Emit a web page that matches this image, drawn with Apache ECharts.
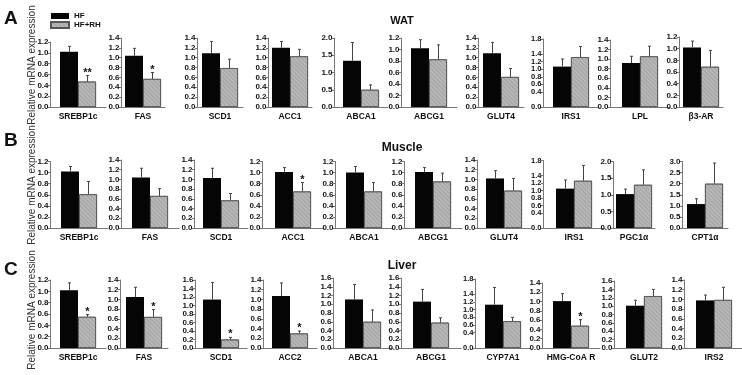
<!DOCTYPE html>
<html>
<head>
<meta charset="utf-8">
<script src="https://cdn.jsdelivr.net/npm/echarts@6/dist/echarts.min.js"></script>
<style>
  html, body { margin: 0; padding: 0; background: #fff; }
  #chart { width: 742px; height: 375px; }
</style>
</head>
<body>
<div id="chart"></div>
<script>
// relative mRNA expression, HF vs HF+RH (mean and error)
const watGenes = ['SREBP1c', 'FAS', 'SCD1', 'ACC1', 'ABCA1', 'ABCG1', 'GLUT4', 'IRS1', 'LPL', 'β3-AR']
const watHF = [1.02, 1.04, 1.09, 1.20, 1.34, 1.02, 1.09, 1.07, 0.92, 1.02]
const watHFErr = [0.10, 0.15, 0.24, 0.13, 0.53, 0.15, 0.22, 0.20, 0.14, 0.11]
const watRH = [0.47, 0.57, 0.79, 1.03, 0.50, 0.83, 0.61, 1.32, 1.06, 0.69]
const watRHErr = [0.11, 0.13, 0.18, 0.14, 0.14, 0.25, 0.17, 0.28, 0.21, 0.28]
const watSig = ['**', '*', '', '', '', '', '', '', '', '']
const watMax = [1.2, 1.4, 1.4, 1.4, 2.0, 1.2, 1.4, 1.8, 1.4, 1.2]
const watStep = [0.2, 0.2, 0.2, 0.2, 0.5, 0.2, 0.2, 0.2, 0.2, 0.2]

const muscleGenes = ['SREBP1c', 'FAS', 'SCD1', 'ACC1', 'ABCA1', 'ABCG1', 'GLUT4', 'IRS1', 'PGC1α', 'CPT1α']
const muscleHF = [1.02, 1.04, 1.03, 1.01, 1.00, 1.01, 1.02, 1.05, 1.02, 1.08]
const muscleHFErr = [0.09, 0.19, 0.20, 0.08, 0.11, 0.08, 0.16, 0.23, 0.15, 0.24]
const muscleRH = [0.61, 0.66, 0.57, 0.66, 0.66, 0.84, 0.77, 1.26, 1.30, 2.00]
const muscleRHErr = [0.23, 0.15, 0.14, 0.16, 0.16, 0.15, 0.25, 0.41, 0.45, 0.93]
const muscleSig = ['', '', '', '*', '', '', '', '', '', '']
const muscleMax = [1.2, 1.4, 1.4, 1.2, 1.2, 1.2, 1.4, 1.8, 2.0, 3.0]
const muscleStep = [0.2, 0.2, 0.2, 0.2, 0.2, 0.2, 0.2, 0.2, 0.5, 0.5]

const liverGenes = ['SREBP1c', 'FAS', 'SCD1', 'ACC2', 'ABCA1', 'ABCG1', 'CYP7A1', 'HMG-CoA R', 'GLUT2', 'IRS2']
const liverHF = [1.02, 1.05, 1.14, 1.07, 1.11, 1.06, 1.13, 1.01, 1.01, 0.98]
const liverHFErr = [0.13, 0.20, 0.40, 0.27, 0.34, 0.28, 0.45, 0.16, 0.13, 0.11]
const liverRH = [0.55, 0.64, 0.20, 0.30, 0.60, 0.58, 0.70, 0.48, 1.24, 0.99]
const liverRHErr = [0.04, 0.15, 0.05, 0.05, 0.27, 0.11, 0.10, 0.13, 0.16, 0.26]
const liverSig = ['*', '*', '*', '*', '', '', '', '*', '', '']
const liverMax = [1.2, 1.4, 1.6, 1.4, 1.6, 1.6, 1.8, 1.4, 1.6, 1.4]
const liverStep = [0.2, 0.2, 0.2, 0.2, 0.2, 0.2, 0.2, 0.2, 0.2, 0.2]

const rows = [
  { genes: watGenes, hf: watHF, hfErr: watHFErr, rh: watRH, rhErr: watRHErr, sig: watSig, max: watMax, step: watStep },
  { genes: muscleGenes, hf: muscleHF, hfErr: muscleHFErr, rh: muscleRH, rhErr: muscleRHErr, sig: muscleSig, max: muscleMax, step: muscleStep },
  { genes: liverGenes, hf: liverHF, hfErr: liverHFErr, rh: liverRH, rhErr: liverRHErr, sig: liverSig, max: liverMax, step: liverStep }
]

// panel placement (pixels)
const layout = [
  {
    bottom: 107,
    tops: [42, 38, 38, 38, 38, 38, 38, 39, 40, 37],
    axisX: [50, 121, 197, 268, 334, 401, 478, 543, 610, 679],
    barLeft: [60, 125, 202, 272, 343, 411, 483, 553, 622, 683]
  },
  {
    bottom: 228,
    tops: [161.5, 160, 160, 161.5, 161.5, 161.5, 160, 160.5, 161.5, 161.5],
    axisX: [50, 121, 194, 262, 335, 404, 477, 543, 613, 682],
    barLeft: [61, 132, 203, 275, 346, 415, 486, 556, 616, 687]
  },
  {
    bottom: 348,
    tops: [280, 280, 280, 280, 278, 278, 279, 283, 281, 280],
    axisX: [50, 120, 195, 263, 333, 401, 475, 542, 614, 684],
    barLeft: [60, 126, 203, 272, 345, 413, 485, 553, 626, 696]
  }
]

const FONT = 'Liberation Sans, Arial, sans-serif'
const BAR_W = 18
const axisColor = '#777'

const grids = []
const xAxes = []
const yAxes = []
const series = []

rows.forEach((r, ri) => {
  const L = layout[ri]
  r.genes.forEach((gene, i) => {
    const idx = grids.length
    const cx = L.barLeft[i] + BAR_W
    grids.push({
      left: L.axisX[i],
      top: L.tops[i],
      width: 2 * (cx - L.axisX[i]),
      height: L.bottom - L.tops[i],
      outerBoundsMode: 'none'
    })
    xAxes.push({
      type: 'category',
      gridIndex: idx,
      data: [gene],
      axisTick: { show: false },
      axisLine: { lineStyle: { color: axisColor } },
      axisLabel: { margin: 5, fontSize: 8.5, fontWeight: 'bold', color: '#111', fontFamily: FONT, interval: 0 }
    })
    yAxes.push({
      type: 'value',
      gridIndex: idx,
      min: 0,
      max: r.max[i],
      interval: r.step[i],
      splitLine: { show: false },
      axisLine: { show: true, lineStyle: { color: axisColor } },
      axisTick: { show: true, length: 2, lineStyle: { color: axisColor } },
      axisLabel: {
        margin: 1.5,
        fontSize: r.max[i] / r.step[i] > 8 ? 7.5 : 8,
        fontWeight: 'bold',
        color: '#111',
        fontFamily: FONT,
        showMinLabel: true,
        showMaxLabel: true,
        formatter: v => v.toFixed(1)
      }
    })
    series.push({
      name: 'HF',
      type: 'bar',
      xAxisIndex: idx,
      yAxisIndex: idx,
      data: [r.hf[i]],
      barWidth: BAR_W,
      barGap: '0%',
      itemStyle: { color: '#050505' }
    })
    series.push({
      name: 'HF+RH',
      type: 'bar',
      xAxisIndex: idx,
      yAxisIndex: idx,
      data: [r.rh[i]],
      barWidth: BAR_W,
      barGap: '0%',
      itemStyle: {
        color: '#a9a9a9',
        borderColor: '#555',
        borderWidth: 0.8,
        decal: {
          symbol: 'rect',
          symbolSize: 1,
          dashArrayX: [1, 0],
          dashArrayY: [1, 2],
          rotation: Math.PI / 4,
          color: 'rgba(255,255,255,0.25)'
        }
      }
    })
    const sig = r.sig[i]
    series.push({
      type: 'custom',
      xAxisIndex: idx,
      yAxisIndex: idx,
      silent: true,
      z: 5,
      data: [
        [0, r.hf[i], r.hf[i] + r.hfErr[i], -1],
        [0, r.rh[i], r.rh[i] + r.rhErr[i], 1]
      ],
      renderItem: (params, api) => {
        const base = api.coord([api.value(0), api.value(1)])
        const top = api.coord([api.value(0), api.value(2)])
        const x = Math.round(base[0] + api.value(3) * BAR_W / 2) + 0.5
        const children = [
          { type: 'line', shape: { x1: x, y1: base[1], x2: x, y2: top[1] }, style: { stroke: '#444', lineWidth: 1 } },
          { type: 'line', shape: { x1: x - 1.5, y1: top[1], x2: x + 1.5, y2: top[1] }, style: { stroke: '#444', lineWidth: 1 } }
        ]
        if (params.dataIndex === 1 && sig) {
          children.push({
            type: 'text',
            style: {
              text: sig, x: x, y: top[1] - 3,
              align: 'center', verticalAlign: 'middle',
              font: 'bold 11px ' + FONT, fill: '#111'
            }
          })
        }
        return { type: 'group', children: children }
      }
    })
  })
})

const sectionTitles = ['WAT', 'Muscle', 'Liver']
const graphics = []
const titleY = [21, 148, 266]
const letterY = [19, 141, 270]
const yNameY = [65, 185, 310]
sectionTitles.forEach((t, i) => {
  graphics.push({
    type: 'text', x: 402, y: titleY[i],
    style: { text: t, align: 'center', verticalAlign: 'middle', font: 'bold ' + (i === 0 ? 11 : 12) + 'px ' + FONT, fill: '#111' }
  })
  graphics.push({
    type: 'text', x: 4, y: letterY[i],
    style: { text: 'ABC'[i], align: 'left', verticalAlign: 'middle', font: 'bold 19px ' + FONT, fill: '#111' }
  })
  graphics.push({
    type: 'text', x: 32, y: yNameY[i], rotation: Math.PI / 2,
    style: { text: 'Relative mRNA expression', align: 'center', verticalAlign: 'middle', font: '10px ' + FONT, fill: '#333' }
  })
})

const chart = echarts.init(document.getElementById('chart'), null, { renderer: 'canvas' })
chart.setOption({
  animation: false,
  backgroundColor: '#fff',
  legend: {
    data: ['HF', 'HF+RH'],
    orient: 'vertical',
    left: 50,
    top: 12,
    icon: 'rect',
    itemWidth: 18,
    itemHeight: 6,
    itemGap: 1,
    padding: 0,
    textStyle: { fontSize: 8, lineHeight: 8, fontWeight: 'bold', color: '#111', fontFamily: FONT }
  },
  grid: grids,
  xAxis: xAxes,
  yAxis: yAxes,
  series: series,
  graphic: graphics
})
</script>
</body>
</html>
